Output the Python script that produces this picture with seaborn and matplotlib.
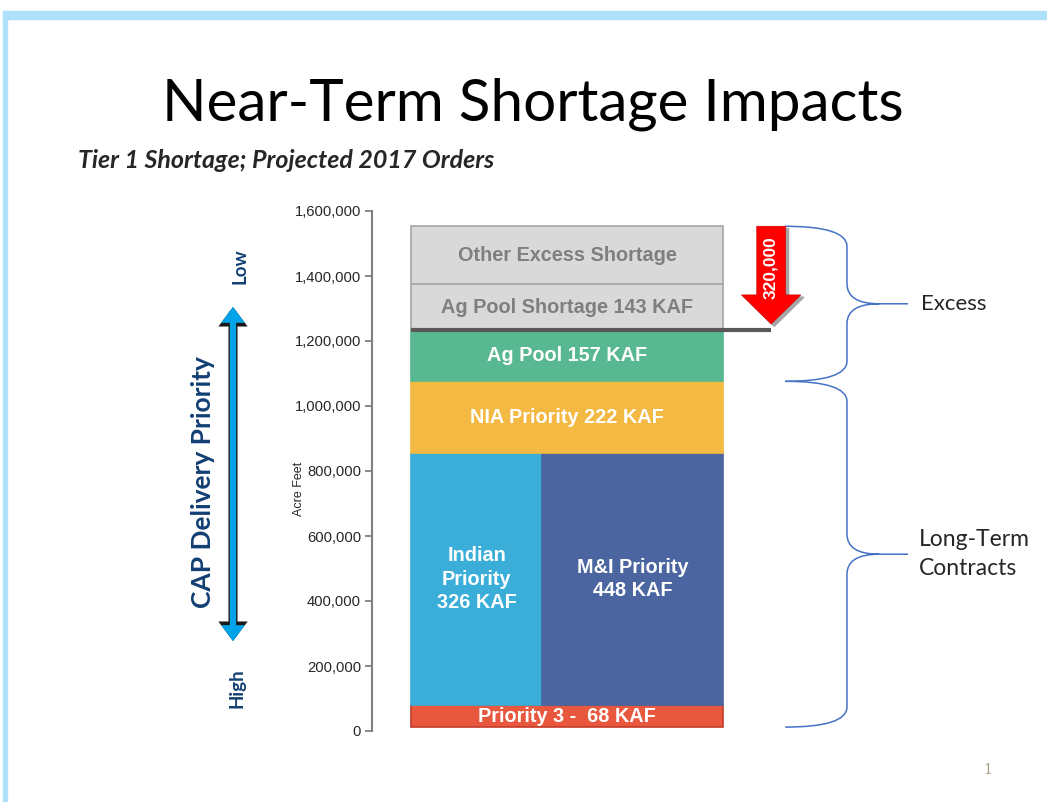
import numpy as np
import pandas as pd
import matplotlib
matplotlib.use("Agg")
from matplotlib import pyplot as plt
from matplotlib.path import Path
import matplotlib.patches as mpatches
import seaborn as sns

# blocks, bottom to top (KAF)
blocks = ["Priority 3", "Indian Priority", "M&I Priority", "NIA Priority",
          "Ag Pool", "Ag Pool Shortage", "Other Excess Shortage"]
kaf = [68, 326, 448, 222, 157, 143, 177]
level = [0, 1, 1, 2, 3, 4, 5]          # Indian and M&I share one row
labels = ["Priority 3 -  68 KAF", "Indian\nPriority\n326 KAF", "M&I Priority\n448 KAF",
          "NIA Priority 222 KAF", "Ag Pool 157 KAF", "Ag Pool Shortage 143 KAF",
          "Other Excess Shortage"]
colors = ["#E8583F", "#3AAED9", "#4A65A0", "#F4B942", "#58B891", "#D9D9D9", "#D9D9D9"]
edges = ["#C43C2A", "#3AAED9", "#4A65A0", "#F4B942", "#58B891", "#A6A6A6", "#A6A6A6"]
text_colors = ["white"] * 5 + ["#7F7F7F"] * 2
base_af = 12000
shortage_af = 320000
yticks = [0, 200000, 400000, 600000, 800000, 1000000, 1200000, 1400000, 1600000]

df = pd.DataFrame({"block": blocks, "af": np.array(kaf) * 1000, "level": level,
                   "label": labels, "color": colors, "edge": edges, "tc": text_colors})

# row bottoms and widths (shared row split in proportion to volume)
row_af = df.groupby("level")["af"].max().where(df.groupby("level").size() == 1,
                                                 df.groupby("level")["af"].sum())
row_bottom = base_af + row_af.cumsum().shift(fill_value=0)
df["bottom"] = df["level"].map(row_bottom)
df["height"] = df["level"].map(row_af)
df["width"] = df["af"] / df.groupby("level")["af"].transform("sum")
df["left"] = df.groupby("level")["width"].cumsum() - df["width"]
total = base_af + row_af.sum()
ag_top = total - shortage_af

sns.set_theme(style="white")
plt.rcParams["font.family"] = ["Liberation Sans", "DejaVu Sans"]

fig = plt.figure(figsize=(10.47, 8.02), dpi=100)
ax = fig.add_axes([372 / 1047, 71 / 802, 675 / 1047, 520 / 802])

for _, r in df.iterrows():
    ax.bar(r["left"], r["height"], width=r["width"], bottom=r["bottom"], align="edge",
           color=r["color"], edgecolor=r["edge"], linewidth=1.2, zorder=2)
    ax.text(r["left"] + r["width"] / 2, r["bottom"] + r["height"] / 2, r["label"],
            ha="center", va="center", color=r["tc"], fontsize=14.3, fontweight="bold",
            linespacing=1.3, zorder=3)

# separation line under the shortage blocks
ax.plot([0, 1.154], [ag_top, ag_top], color="#595959", lw=3, zorder=4, solid_capstyle="butt")

# red arrow showing the shortage
cx = 1.154
sw, hw = 0.046, 0.095
head_y = total - 0.66 * shortage_af
tip_y = ag_top + 0.06 * shortage_af
arrow = [(cx - sw, total), (cx + sw, total), (cx + sw, head_y), (cx + hw, head_y),
         (cx, tip_y), (cx - hw, head_y), (cx - sw, head_y)]
ax.add_patch(mpatches.Polygon([(x + 0.010, y - 7000) for x, y in arrow], closed=True,
                              color="#A6A6A6", zorder=4, clip_on=False))
ax.add_patch(mpatches.Polygon(arrow, closed=True, facecolor="#FF0000", edgecolor="#D00000",
                              lw=0.5, zorder=5, clip_on=False))
ax.text(cx, total - 0.40 * shortage_af, f"{shortage_af:,}", rotation=90, ha="center",
        va="center", color="white", fontsize=12.5, fontweight="bold", zorder=6)


def brace(ax, top, bottom, x0=1.199, x1=1.397, xm=1.50, x2=1.593, r=62000):
    mid = (top + bottom) / 2
    verts = [(x0, top), (x1, top), (x1, top - r), (x1, mid + r), (x1, mid), (xm, mid),
             (x2, mid),
             (xm, mid), (x1, mid), (x1, mid - r), (x1, bottom + r), (x1, bottom), (x0, bottom)]
    codes = [Path.MOVETO, Path.CURVE3, Path.CURVE3, Path.LINETO, Path.CURVE3, Path.CURVE3,
             Path.LINETO,
             Path.MOVETO, Path.CURVE3, Path.CURVE3, Path.LINETO, Path.CURVE3, Path.CURVE3]
    ax.add_patch(mpatches.PathPatch(Path(verts, codes), fill=False, edgecolor="#4472C4",
                                    lw=1.1, zorder=3, clip_on=False))
    return mid


nia_top = df.loc[df["block"] == "NIA Priority", "bottom"].iloc[0] + \
    df.loc[df["block"] == "NIA Priority", "height"].iloc[0]
m1 = brace(ax, total, nia_top)
m2 = brace(ax, nia_top, base_af)
ax.text(1.633, m1, "Excess", ha="left", va="center", fontsize=16, family=["Lato"])
ax.text(1.627, m2, "Long-Term\nContracts", ha="left", va="center", fontsize=16.5,
        family=["Lato"], linespacing=1.45)

ax.set_xlim(-0.125, 2.038)
ax.set_ylim(0, 1600000)
ax.set_yticks(yticks)
ax.set_yticklabels([f"{v:,}" for v in yticks])
ax.tick_params(axis="y", direction="out", length=5, width=1.3, color="#808080",
               labelsize=10.6, pad=3, left=True)
ax.set_xticks([])
for s in ["top", "right", "bottom"]:
    ax.spines[s].set_visible(False)
ax.spines["left"].set_color("#808080")
ax.spines["left"].set_linewidth(1.5)
ax.text(-0.36, 0.745e6, "Acre Feet", rotation=90, ha="center", va="center", fontsize=9)

# slide decorations
fig.patches.append(mpatches.Rectangle((3 / 1047, 1 - 19 / 802), 1, 8 / 802,
                                      transform=fig.transFigure, color="#ADE0F9"))
fig.patches.append(mpatches.Rectangle((3 / 1047, 0), 4 / 1047, 1 - 11 / 802,
                                      transform=fig.transFigure, color="#ADE0F9"))
fig.text(533 / 1047, 1 - 104 / 802, "Near-Term Shortage Impacts", ha="center", va="center",
         fontsize=42, family=["Lato"], color="black")
fig.text(78 / 1047, 1 - 160 / 802, "Tier 1 Shortage; Projected 2017 Orders", ha="left",
         va="center", fontsize=18, family=["Lato"], fontweight="bold", style="italic")
navy = "#123F73"
fig.text(203 / 1047, 1 - 482 / 802, "CAP Delivery Priority", rotation=90, ha="center",
         va="center", fontsize=19, fontweight="bold", family=["Lato"], color=navy)
fig.text(240 / 1047, 1 - 266 / 802, "Low", rotation=90, ha="center", va="center",
         fontsize=13.5, fontweight="bold", family=["Lato"], color=navy)
fig.text(237 / 1047, 1 - 688 / 802, "High", rotation=90, ha="center", va="center",
         fontsize=13.5, fontweight="bold", family=["Lato"], color=navy)
for c, w in [("#1A1A1A", 6.5), ("#00A3E8", 4.5)]:
    fig.patches.append(mpatches.FancyArrowPatch(
        (233 / 1047, 1 - 641 / 802), (233 / 1047, 1 - 307 / 802), transform=fig.transFigure,
        arrowstyle="<|-|>,head_length=0.6,head_width=0.45", mutation_scale=9,
        color=c, lw=w, shrinkA=0, shrinkB=0, joinstyle="miter"))
fig.text(988 / 1047, 1 - 770 / 802, "1", ha="center", va="center", fontsize=10,
         family=["DejaVu Serif"], color="#A89F80")

fig.savefig("out.png", dpi=100)
